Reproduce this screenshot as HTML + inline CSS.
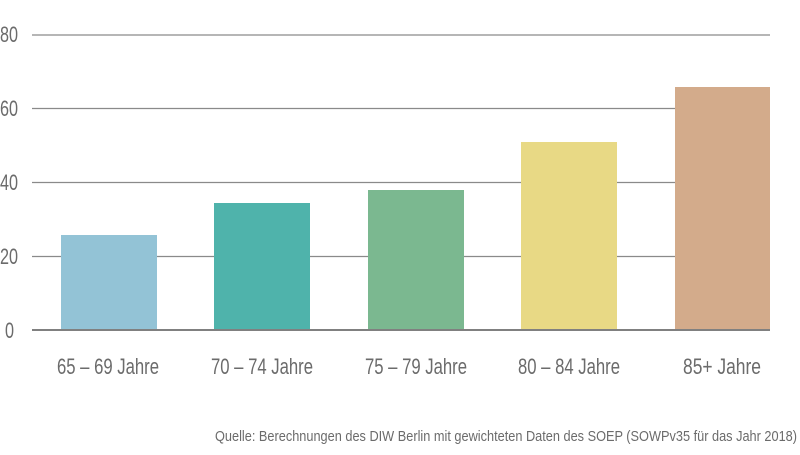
<!DOCTYPE html>
<html><head><meta charset="utf-8"><style>
html,body{margin:0;padding:0;background:#fff;}
svg text{font-family:"Liberation Sans",sans-serif;fill:#6b6b6b;}
</style></head><body>
<svg width="800" height="450" xmlns="http://www.w3.org/2000/svg">
<g stroke="#8a8a8a" stroke-width="1.3">
<line x1="32" y1="35" x2="770" y2="35"/>
<line x1="32" y1="108.5" x2="770" y2="108.5"/>
<line x1="32" y1="182.5" x2="770" y2="182.5"/>
<line x1="32" y1="256.5" x2="770" y2="256.5"/>
</g>
<rect x="61" y="235" width="96" height="95" fill="#93c3d6"/>
<rect x="214" y="203" width="96" height="127" fill="#4fb3ab"/>
<rect x="368" y="190" width="96" height="140" fill="#7bb890"/>
<rect x="521" y="142" width="96" height="188" fill="#e8d985"/>
<rect x="675" y="87" width="95" height="243" fill="#d3ab8b"/>
<line x1="32" y1="330" x2="770" y2="330" stroke="#808080" stroke-width="2"/>
<g font-size="22">
<text x="0" y="42" textLength="18" lengthAdjust="spacingAndGlyphs">80</text>
<text x="0" y="116" textLength="18" lengthAdjust="spacingAndGlyphs">60</text>
<text x="0" y="190" textLength="18" lengthAdjust="spacingAndGlyphs">40</text>
<text x="0" y="264" textLength="18" lengthAdjust="spacingAndGlyphs">20</text>
<text x="5" y="338" textLength="9" lengthAdjust="spacingAndGlyphs">0</text>
<text x="57" y="374" textLength="102" lengthAdjust="spacingAndGlyphs">65 – 69 Jahre</text>
<text x="211" y="374" textLength="102" lengthAdjust="spacingAndGlyphs">70 – 74 Jahre</text>
<text x="365" y="374" textLength="102" lengthAdjust="spacingAndGlyphs">75 – 79 Jahre</text>
<text x="518" y="374" textLength="102" lengthAdjust="spacingAndGlyphs">80 – 84 Jahre</text>
<text x="683" y="374" textLength="78" lengthAdjust="spacingAndGlyphs">85+ Jahre</text>
</g>
<text x="215" y="441" font-size="15" textLength="582" lengthAdjust="spacingAndGlyphs">Quelle: Berechnungen des DIW Berlin mit gewichteten Daten des SOEP (SOWPv35 für das Jahr 2018)</text>
</svg>
</body></html>
